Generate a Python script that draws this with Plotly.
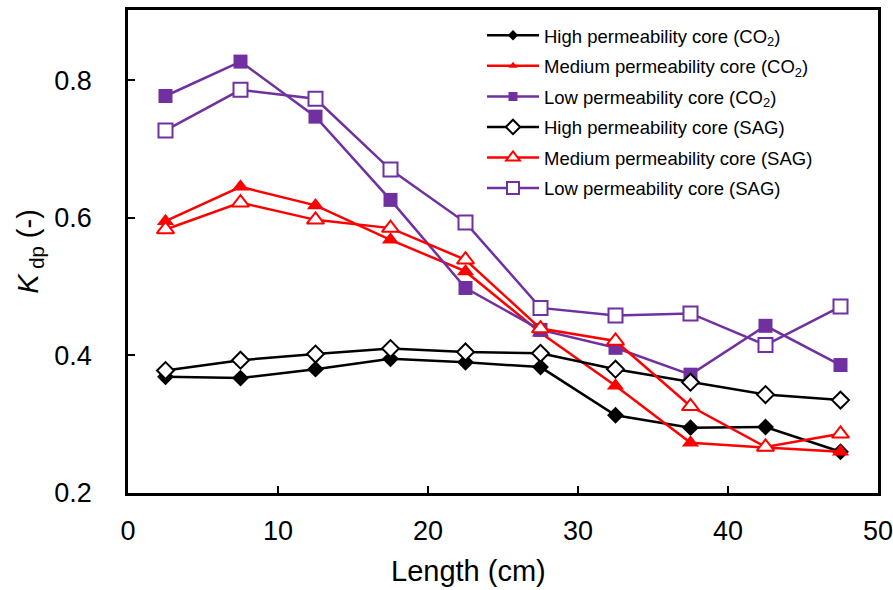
import plotly.graph_objects as go

length_cm = [2.5, 7.5, 12.5, 17.5, 22.5, 27.5, 32.5, 37.5, 42.5, 47.5]

high_co2 = [0.369, 0.367, 0.380, 0.395, 0.390, 0.383, 0.313, 0.295, 0.296, 0.260]
med_co2 = [0.595, 0.645, 0.618, 0.568, 0.522, 0.433, 0.356, 0.273, 0.266, 0.260]
low_co2 = [0.777, 0.827, 0.747, 0.626, 0.498, 0.437, 0.411, 0.372, 0.443, 0.386]
high_sag = [0.378, 0.393, 0.402, 0.410, 0.405, 0.403, 0.380, 0.361, 0.343, 0.335]
med_sag = [0.583, 0.622, 0.597, 0.585, 0.539, 0.439, 0.421, 0.326, 0.267, 0.286]
low_sag = [0.727, 0.786, 0.773, 0.670, 0.593, 0.469, 0.458, 0.461, 0.415, 0.471]

x_ticks = [0, 10, 20, 30, 40, 50]
y_ticks = [0.2, 0.4, 0.6, 0.8]

names = [
    "High permeability core (CO<sub>2</sub>)",
    "Medium permeability core (CO<sub>2</sub>)",
    "Low permeability core (CO<sub>2</sub>)",
    "High permeability core (SAG)",
    "Medium permeability core (SAG)",
    "Low permeability core (SAG)",
]
series = [high_co2, med_co2, low_co2, high_sag, med_sag, low_sag]
colors = ["#000000", "#FF0000", "#7030A0", "#000000", "#FF0000", "#7030A0"]
symbols = ["diamond", "triangle-up", "square", "diamond", "triangle-up", "square"]
sizes = [13, 15, 14, 13, 15, 14]
legend_sizes = [8, 8, 9, 11, 12, 12]
filled = [True, True, True, False, False, False]

FONT = "Liberation Sans, Arial, sans-serif"

fig = go.Figure()
for i, (nm, ys) in enumerate(zip(names, series)):
    c = colors[i]
    mk = dict(
        symbol=symbols[i], size=sizes[i],
        color=c if filled[i] else "white",
        line=dict(color=c, width=0 if filled[i] else 2),
    )
    fig.add_trace(go.Scatter(
        x=length_cm, y=ys, name=nm, mode="lines+markers", showlegend=False,
        line=dict(color=c, width=2.5), marker=mk,
    ))

# legend entries (smaller markers, as in the reference legend)
for i, nm in enumerate(names):
    c = colors[i]
    fig.add_trace(go.Scatter(
        x=[None], y=[None], name=nm, mode="lines+markers",
        legendgroup=f"g{i}",
        line=dict(color=c, width=2.5),
        marker=dict(
            symbol=symbols[i], size=legend_sizes[i],
            color=c if filled[i] else "white",
            line=dict(color=c, width=0 if filled[i] else 2),
        ),
    ))

fig.update_layout(
    width=893, height=590,
    margin=dict(l=128, r=15, t=10, b=97, autoexpand=False),
    plot_bgcolor="white", paper_bgcolor="white",
    font=dict(family=FONT, color="black"),
    showlegend=True,
    legend=dict(
        x=0.472, y=0.986, xanchor="left", yanchor="top",
        font=dict(size=18.5, family=FONT),
        bgcolor="rgba(0,0,0,0)",
        traceorder="grouped", tracegroupgap=3.5,
        itemwidth=52,
    ),
    xaxis=dict(
        range=[0, 50], tickvals=x_ticks, ticktext=[str(v) for v in x_ticks],
        ticks="inside", ticklen=7, tickwidth=2, tickcolor="black",
        showline=True, linecolor="black", linewidth=2.5, mirror=True,
        showgrid=False, zeroline=False, automargin=False,
        tickfont=dict(size=27, family=FONT),
        ticklabelstandoff=12, ticklabeloverflow="allow",
    ),
    yaxis=dict(
        range=[0.2, 0.902], tickvals=y_ticks, ticktext=[f"{v:.1f}" for v in y_ticks],
        ticks="inside", ticklen=7, tickwidth=2, tickcolor="black",
        showline=True, linecolor="black", linewidth=2.5, mirror=True,
        showgrid=False, zeroline=False, automargin=False,
        tickfont=dict(size=27, family=FONT),
        ticklabelstandoff=28, ticklabeloverflow="allow",
        title=dict(text="<i>K</i><sub> dp</sub> (-)", font=dict(size=29, family=FONT), standoff=8),
    ),
    annotations=[dict(
        text="Length (cm)", xref="paper", yref="paper",
        x=(468 - 128) / 750, y=-(571 - 493) / 483,
        xanchor="center", yanchor="middle", showarrow=False,
        font=dict(size=29, family=FONT),
    )],
)

fig.write_html("out.html")
